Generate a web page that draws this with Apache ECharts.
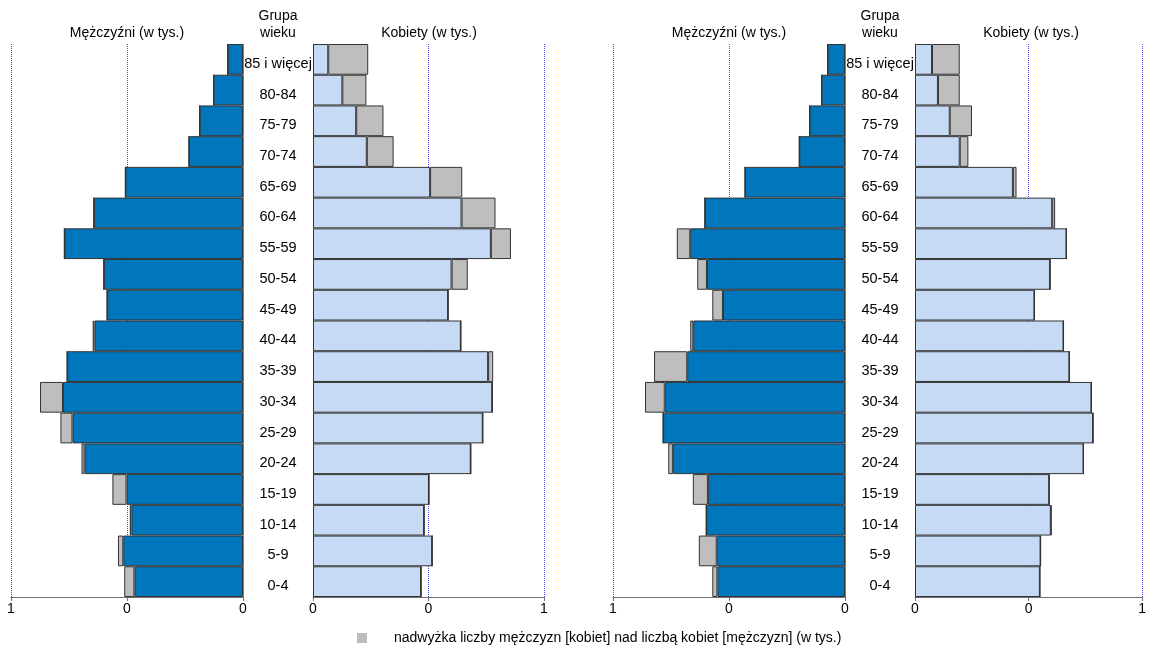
<!DOCTYPE html>
<html>
<head>
<meta charset="utf-8">
<script src="https://cdn.jsdelivr.net/npm/echarts@6/dist/echarts.min.js"></script>
<style>html,body{margin:0;padding:0;background:#fff}#c{width:1149px;height:650px}</style>
</head>
<body>
<div id="c"></div>
<script>
// Age groups, top to bottom
const ageGroups = ['85 i więcej','80-84','75-79','70-74','65-69','60-64','55-59','50-54','45-49','40-44','35-39','30-34','25-29','20-24','15-19','10-14','5-9','0-4'];
// Left pyramid (w tys.)
const leftMen   = [0.066,0.127,0.187,0.233,0.507,0.643,0.770,0.600,0.587,0.648,0.758,0.875,0.787,0.696,0.563,0.488,0.539,0.512];
const leftWomen = [0.239,0.231,0.305,0.349,0.646,0.790,0.857,0.670,0.585,0.640,0.780,0.776,0.735,0.683,0.502,0.481,0.516,0.468];
// Right pyramid (w tys.)
const rightMen   = [0.075,0.101,0.153,0.197,0.431,0.604,0.725,0.637,0.572,0.667,0.823,0.862,0.784,0.762,0.656,0.598,0.630,0.572];
const rightWomen = [0.197,0.197,0.251,0.235,0.447,0.617,0.667,0.595,0.526,0.654,0.680,0.777,0.784,0.742,0.591,0.601,0.553,0.550];
// Axis ticks
const tickValues = [0, 0.5, 1];
const tickLabels = ['0', '0', '1'];
const titleMen = 'Mężczyźni (w tys.)';
const titleWomen = 'Kobiety (w tys.)';
const titleAge = ['Grupa', 'wieku'];
const legendName = 'nadwyżka liczby mężczyzn [kobiet] nad liczbą kobiet [mężczyzn] (w tys.)';

const FONT = "'Liberation Sans', Arial, sans-serif";
const BLUE = '#0077BD', LIGHT = '#C6DAF6', GRAY = '#BEBEBE', BORDER = '#333333';

const r3 = v => Math.round(v * 1000) / 1000;
const common = (a, b) => a.map((v, i) => r3(Math.min(v, b[i])));
const excess = (a, b) => a.map((v, i) => r3(Math.max(0, v - b[i])));

const grids = [
  {left: 11,  width: 232, male: true},
  {left: 313, width: 231, male: false},
  {left: 613, width: 232, male: true},
  {left: 915, width: 231, male: false}
];
const pairs = [[leftMen, leftWomen], [leftWomen, leftMen], [rightMen, rightWomen], [rightWomen, rightMen]];

const tickFmt = v => {
  const i = tickValues.findIndex(t => Math.abs(t - v) < 1e-9);
  return i >= 0 ? tickLabels[i] : '';
};

const option = {
  animation: false,
  textStyle: {fontFamily: FONT},
  grid: grids.map(g => ({left: g.left, width: g.width, top: 44, height: 553, containLabel: false})),
  xAxis: grids.map((g, i) => ({
    type: 'value', gridIndex: i, min: 0, max: 1, interval: 0.5, inverse: g.male,
    axisLine: {show: true, lineStyle: {color: '#707070', width: 1}},
    axisTick: {show: true, length: 4, lineStyle: {color: '#707070'}},
    axisLabel: {color: '#000', fontSize: 14, fontFamily: FONT, margin: 5, formatter: tickFmt, showMinLabel: true, showMaxLabel: true},
    splitLine: {show: true, lineStyle: {color: '#4a4aff', type: 'dotted', width: 1}}
  })),
  yAxis: grids.map((g, i) => ({
    type: 'category', gridIndex: i, data: ageGroups, inverse: true,
    position: g.male ? 'right' : 'left',
    axisLine: {show: true, lineStyle: {color: '#808080', width: 1}},
    axisTick: {show: false},
    splitLine: {show: false},
    axisLabel: {show: g.male, align: 'center', verticalAlign: 'top', lineHeight: 9, margin: 35, color: '#000', fontSize: 14.5, fontFamily: FONT}
  })),
  legend: {
    data: [legendName], left: 357, top: 631, padding: 0, itemWidth: 10, itemHeight: 10, icon: 'rect',
    itemStyle: {borderWidth: 0},
    textStyle: {fontSize: 14, color: '#000', fontFamily: FONT, padding: [0, 0, 0, 22]}
  },
  series: []
};

grids.forEach((g, i) => {
  const [a, b] = pairs[i];
  option.series.push({
    name: g.male ? 'base-m' + i : 'base-f' + i, type: 'bar', xAxisIndex: i, yAxisIndex: i, stack: 's' + i,
    data: common(a, b), barCategoryGap: '0%',
    itemStyle: {color: g.male ? BLUE : LIGHT, borderColor: BORDER, borderWidth: 1}
  });
  option.series.push({
    name: legendName, type: 'bar', xAxisIndex: i, yAxisIndex: i, stack: 's' + i,
    data: excess(a, b), barCategoryGap: '0%',
    itemStyle: {color: GRAY, borderColor: BORDER, borderWidth: 1}
  });
});

const txt = (x, y, text) => ({type: 'text', x: x, y: y, style: {text: text, fill: '#000', font: '14px ' + FONT, textAlign: 'center', textVerticalAlign: 'middle'}});
option.graphic = [
  txt(127, 33, titleMen), txt(278, 16, titleAge[0]), txt(278, 33, titleAge[1]), txt(429, 33, titleWomen),
  txt(729, 33, titleMen), txt(880, 16, titleAge[0]), txt(880, 33, titleAge[1]), txt(1031, 33, titleWomen)
];

const chart = echarts.init(document.getElementById('c'), null, {renderer: 'canvas'});
chart.setOption(option);
</script>
</body>
</html>
